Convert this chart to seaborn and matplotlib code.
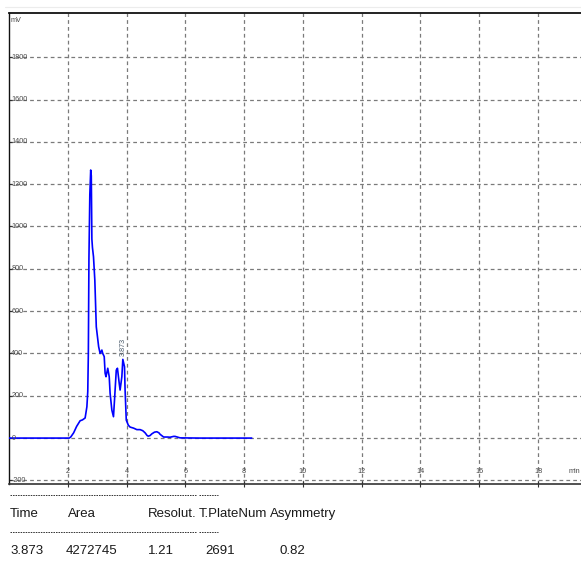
import matplotlib
matplotlib.use("Agg")
import matplotlib.pyplot as plt
import seaborn as sns
import pandas as pd
from matplotlib.lines import Line2D

# ---------------- data ----------------
time_min = [0.0, 2.05, 2.10, 2.20, 2.30, 2.42, 2.50, 2.59, 2.65, 2.68, 2.70, 2.72,
            2.75, 2.78, 2.80, 2.82, 2.84, 2.875, 2.92, 2.97, 3.05, 3.10, 3.16, 3.19,
            3.24, 3.27, 3.30, 3.36, 3.41, 3.44, 3.50, 3.555, 3.59, 3.65, 3.69,
            3.75, 3.78, 3.84, 3.873, 3.93, 3.95, 3.99, 4.06, 4.12, 4.24, 4.35,
            4.46, 4.55, 4.63, 4.70, 4.74, 4.80, 4.86, 4.95, 5.03, 5.10, 5.14, 5.26,
            5.40, 5.48, 5.60, 5.65, 5.75, 5.82, 6.50, 7.50, 8.26]
signal_mv = [0, 0, 5, 25, 55, 82, 86, 95, 148, 220, 400, 850,
             1150, 1267, 1240, 940, 900, 857, 747, 526, 432, 400, 416, 400,
             385, 307, 290, 330, 290, 212, 132, 101, 180, 321, 330,
             259, 227, 290, 372, 337, 227, 85, 61, 52, 47, 40,
             40, 35, 25, 12, 9, 12, 20, 28, 30, 25, 18, 5,
             5, 4, 8, 8, 4, 1, 0, 0, 0]
x_ticks = [2, 4, 6, 8, 10, 12, 14, 16, 18]
y_ticks = [-200, 0, 200, 400, 600, 800, 1000, 1200, 1400, 1600, 1800]
peak_time = 3.873
peak_height = 372
table_header = ["Time", "Area", "Resolut.", "T.PlateNum", "Asymmetry"]
table_values = ["3.873", "4272745", "1.21", "2691", "0.82"]

df = pd.DataFrame({"time": time_min, "mv": signal_mv})

# ---------------- figure ----------------
sns.set_theme(style="white")
plt.rcParams["font.family"] = ["Liberation Sans", "DejaVu Sans"]

W, H = 581, 570
fig = plt.figure(figsize=(W / 100, H / 100), dpi=100)
fig.patch.set_facecolor("white")
ax = fig.add_axes([9 / W, (H - 484) / H, (596.8 - 9) / W, (484 - 13) / H])

sns.lineplot(data=df, x="time", y="mv", ax=ax, color="#0000ff", lw=1.2,
             estimator=None, sort=False, zorder=3)

ax.set_xlim(0, 20)
ax.set_ylim(-217, 2009)
ax.set_xticks(x_ticks)
ax.set_yticks(y_ticks)
ax.set_xticklabels([])
ax.set_yticklabels([])
ax.set_xlabel("")
ax.set_ylabel("")
ax.grid(True, color="#7a7a7a", ls=(0, (3, 2.5)), lw=0.9)
ax.set_axisbelow(True)
ax.tick_params(axis="x", direction="inout", length=4, width=0.8, color="#333333", bottom=True)
ax.tick_params(axis="y", direction="in", length=2, width=0.8, color="#333333", left=True)

for s in ["left", "top", "bottom"]:
    ax.spines[s].set_visible(True)
    ax.spines[s].set_color("#111111")
ax.spines["top"].set_linewidth(1.3)
ax.spines["left"].set_linewidth(1.0)
ax.spines["bottom"].set_linewidth(1.2)
ax.spines["bottom"].set_color("#333333")
ax.spines["right"].set_visible(False)

small = dict(fontsize=5.2, color="#484848")
ytr = ax.get_yaxis_transform()
for v in y_ticks:
    ax.text(0.004, v, str(v), transform=ytr, ha="left", va="center", **small)
xtr = ax.get_xaxis_transform()
for v in x_ticks:
    ax.text(v, 0.026, str(v), transform=xtr, ha="center", va="center", **small)
ax.text(0.002, 0.984, "mV", transform=ax.transAxes, ha="left", va="center", **small)
ax.text(19.05, 0.026, "min", transform=xtr, ha="left", va="center", **small)
ax.text(peak_time, peak_height + 18, f"{peak_time:.3f}", rotation=90, ha="center",
        va="bottom", fontsize=5.2, color="#4a5a6a")

# faint frame line at very top
fig.add_artist(Line2D([5 / W, 1.0], [1 - 7 / H] * 2, transform=fig.transFigure,
                      color="#ececec", lw=0.8))

# ---------------- peak table ----------------
tfont = ["Liberation Sans", "DejaVu Sans"]
for yy in (495, 532):
    for x0, x1 in ((10, 196), (199, 218)):
        fig.add_artist(Line2D([x0 / W, x1 / W], [1 - yy / H] * 2, transform=fig.transFigure,
                              color="#333333", lw=0.7, ls=(0, (1.6, 1.0))))

hx = [10, 68, 148, 199, 270]
vx = [10, 66, 148, 205, 279]
for x, t in zip(hx, table_header):
    fig.text(x / W, 1 - 514 / H, t, ha="left", va="center", fontsize=9.5,
             family=tfont, color="#1a1a1a")
for x, t in zip(vx, table_values):
    fig.text(x / W, 1 - 551 / H, t, ha="left", va="center", fontsize=9.5,
             family=tfont, color="#1a1a1a")

fig.savefig("out.png", dpi=100)
